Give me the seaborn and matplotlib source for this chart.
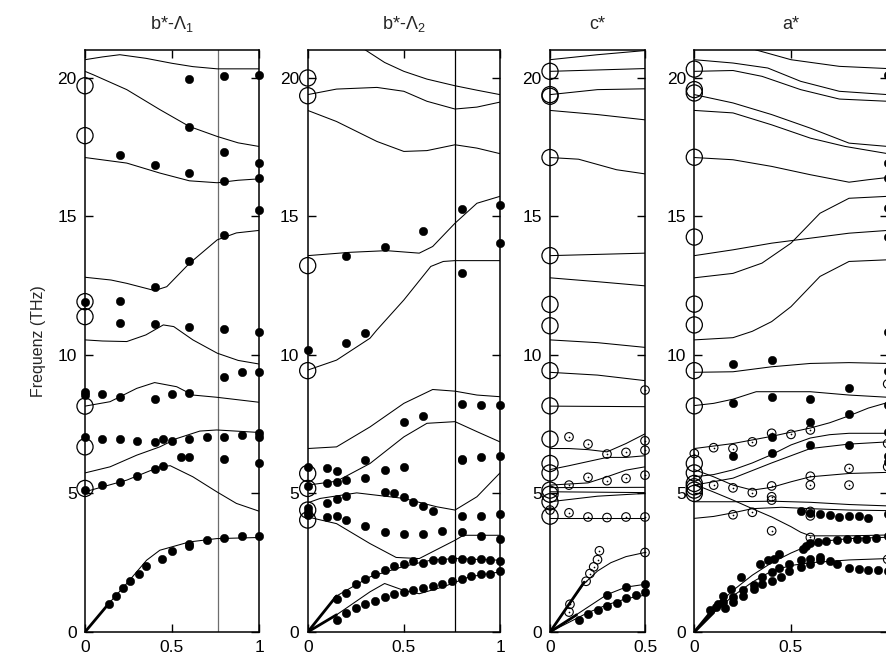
import numpy as np
import pandas as pd
import matplotlib
matplotlib.use("Agg")
import matplotlib.pyplot as plt
import seaborn as sns

# ---------------- data (q in reduced units, f in THz) ----------------
# panel 1: b*-Lambda1
B1_LINES = [
    ([0, .1, .2, .35, .5, .62, .76, 1], [20.65, 20.75, 20.83, 20.7, 20.52, 20.4, 20.32, 20.32]),
    ([0, .05, .24, .43, .6, .76, .88, 1], [20.23, 20.1, 19.57, 18.85, 18.24, 17.88, 17.65, 17.52]),
    ([0, .24, .43, .6, .76, .88, 1], [17.12, 16.92, 16.56, 16.28, 16.21, 16.3, 16.35]),
    ([0, .15, .24, .4, .47, .6, .76, .87, 1], [12.8, 12.7, 12.58, 12.32, 12.46, 13.3, 14.15, 14.4, 14.49]),
    ([0, .1, .24, .35, .45, .51, .62, .76, .88, 1], [10.54, 10.5, 10.48, 10.72, 11.08, 11.02, 10.54, 10.06, 9.8, 9.67]),
    ([0, .144, .297, .4, .527, .62, .757, 1], [8.15, 8.31, 8.79, 9.0, 8.85, 8.55, 8.47, 8.29]),
    ([0, .144, .297, .43, .527, .66, .757, 1], [5.74, 5.96, 6.38, 6.68, 6.98, 7.25, 7.29, 7.2]),
    ([0, .24, .43, .49, .62, .757, .87, 1], [5.06, 5.48, 5.96, 6.0, 5.6, 5.06, 4.64, 4.36]),
    ([0, .144, .24, .354, .43, .6, .757, 1], [0, 1.08, 1.75, 2.59, 2.95, 3.25, 3.37, 3.41]),
]
B1_THICK = [([0, .144], [0, 1.08])]
B1_DOT_Q = [.6, .8, 1, .6, .2, .4, .6, .8, .8, 1, 1, 1, .8, .6, .4, 0, .2,
            .2, .4, .6, .8, 1, .8, .9, 1, 0, 0, .1, .2, .4, .5, .6,
            0, .1, .2, .3, .4, .45, .5, .6, .7, .8, .9, 1, 1, .55, .6, .8, 1,
            0, .1, .2, .3, .4, .45,
            .14, .18, .22, .26, .31, .35, .44, .5, .6, .6, .7, .8, .9, 1]
B1_DOT_F = [19.95, 20.07, 20.1, 18.22, 17.22, 16.86, 16.56, 17.32, 16.29, 16.94, 16.38, 15.23, 14.33, 13.37, 12.46, 11.9, 11.96,
            11.16, 11.11, 11.02, 10.93, 10.84, 9.19, 9.39, 9.39, 8.67, 8.55, 8.59, 8.49, 8.41, 8.59, 8.61,
            7.04, 6.95, 6.95, 6.9, 6.84, 6.96, 6.9, 6.98, 7.02, 7.04, 7.1, 7.17, 7.04, 6.3, 6.3, 6.23, 6.11,
            5.14, 5.32, 5.4, 5.64, 5.88, 6.0,
            1.02, 1.29, 1.57, 1.84, 2.11, 2.37, 2.65, 2.93, 3.12, 3.19, 3.31, 3.40, 3.46, 3.48]
B1_GAMMA = [19.71, 17.91, 11.92, 11.38, 8.15, 6.68, 5.18]

# panel 2: b*-Lambda2
B2_LINES = [
    ([0, .15, .3, .4, .5, .62, .766, .88, 1], [21.9, 21.6, 21.0, 20.55, 20.23, 19.95, 19.71, 19.55, 19.39]),
    ([0, .15, .36, .5, .62, .766, .88, 1], [19.39, 19.59, 19.65, 19.51, 19.15, 18.87, 18.94, 19.12]),
    ([0, .15, .36, .5, .62, .766, .88, 1], [18.82, 18.42, 17.7, 17.34, 17.37, 17.58, 17.46, 17.26]),
    ([0, .22, .41, .58, .65, .766, .88, 1], [13.58, 13.7, 13.76, 13.67, 13.91, 14.75, 15.47, 15.72]),
    ([0, .15, .324, .36, .5, .64, .705, .766, 1], [9.45, 9.81, 10.6, 10.9, 11.98, 13.19, 13.37, 13.4, 13.4]),
    ([0, .15, .324, .5, .65, .766, .88, 1], [6.62, 6.68, 7.4, 8.25, 8.75, 8.69, 8.55, 8.49]),
    ([0, .15, .324, .5, .62, .766, .88, 1], [5.3, 5.44, 6.08, 7.04, 7.53, 7.59, 7.23, 6.86]),
    ([0, .065, .255, .5, .67, .766, .88, 1], [4.66, 4.82, 5.02, 4.82, 4.52, 4.4, 4.88, 5.74]),
    ([0, .15, .324, .46, .58, .766, .81, 1], [4.15, 3.91, 3.19, 2.69, 2.65, 3.31, 3.49, 3.49]),
    ([0, .15, .324, .5, .64, .766, 1], [0, 1.3, 1.99, 2.37, 2.59, 2.65, 2.59]),
    ([0, .15, .324, .4, .5, .58, .705, .84, 1], [0, 0.62, 1.45, 1.75, 1.5, 1.38, 1.63, 1.99, 2.17]),
]
B2_THICK = [([0, .15], [0, 1.3]), ([0, .15], [0, 0.62])]
B2_DOT_Q = [.2, .4, .6, .8, 1, 1, .8, 0, .2, .3, .5, .6, .8, .9, 1, .8, .8, .9, 1,
            0, .1, .15, .3, .3, .4, .5, 0, .1, .15, .2, 0, 0, .1, .15, .2,
            .4, .45, .5, .55, .6, .65, .8, .9, 1,
            0, .1, .15, .2, .3, .4, .5, .6, .7, .8, .9, 1,
            .15, .2, .25, .3, .35, .4, .45, .5, .55, .6, .65, .7, .75, .8, .85, .9, .95, 1,
            .15, .2, .25, .3, .35, .4, .45, .5, .55, .6, .65, .7, .75, .8, .85, .9, .95, 1]
B2_DOT_F = [13.55, 13.88, 14.47, 15.26, 15.39, 14.05, 12.97, 10.18, 10.42, 10.78, 7.56, 7.8, 8.21, 8.19, 8.19, 6.26, 6.2, 6.3, 6.35,
            5.96, 5.92, 5.82, 6.2, 5.54, 5.86, 5.94, 5.27, 5.36, 5.4, 5.48, 4.49, 4.34, 4.64, 4.79, 4.91,
            5.06, 5.0, 4.88, 4.7, 4.55, 4.37, 4.18, 4.18, 4.25,
            4.22, 4.15, 4.18, 4.05, 3.81, 3.61, 3.53, 3.55, 3.65, 3.61, 3.47, 3.37,
            1.2, 1.41, 1.75, 1.93, 2.11, 2.25, 2.37, 2.44, 2.57, 2.5, 2.61, 2.61, 2.64, 2.63, 2.59, 2.63, 2.61, 2.57,
            0.45, 0.69, 0.88, 1.0, 1.12, 1.26, 1.36, 1.45, 1.53, 1.57, 1.66, 1.72, 1.84, 1.93, 2.01, 2.08, 2.11, 2.2]
B2_GAMMA = [19.99, 19.35, 13.22, 9.43, 5.72, 5.18, 4.4, 4.04]

# panel 3: c*
C_LINES = [
    ([0, .25, .5], [20.65, 20.83, 20.98]),
    ([0, .25, .5], [20.23, 20.28, 20.33]),
    ([0, .25, .5], [19.39, 19.57, 19.6]),
    ([0, .25, .5], [18.82, 18.67, 18.48]),
    ([0, .15, .35, .5], [17.12, 17.06, 16.68, 16.53]),
    ([0, .5], [13.58, 13.67]),
    ([0, .25, .5], [12.78, 12.64, 12.49]),
    ([0, .25, .5], [10.54, 10.44, 10.27]),
    ([0, .25, .5], [9.37, 9.27, 9.07]),
    ([0, .5], [8.15, 8.13]),
    ([0, .1, .2, .3, .4, .5], [6.62, 6.62, 6.58, 6.5, 6.8, 7.15]),
    ([0, .1, .2, .3, .4, .5], [5.86, 6.0, 6.15, 6.3, 6.3, 6.36]),
    ([0, .2, .3, .4, .5], [5.3, 5.38, 5.6, 5.84, 5.96]),
    ([0, .5], [5.21, 5.22]),
    ([0, .5], [5.06, 5.03]),
    ([0, .25, .5], [4.7, 4.9, 5.0]),
    ([0, .5], [4.12, 4.12]),
    ([0, .1, .18, .25, .32, .4, .5], [0, 1.0, 1.75, 2.2, 2.5, 2.72, 2.87]),
    ([0, .1, .2, .3, .4, .5], [0, .45, .9, 1.35, 1.62, 1.72]),
    ([0, .1, .2, .3, .4, .5], [0, .35, .7, .98, 1.2, 1.33]),
]
C_THICK = [([0, .18], [0, 1.8]), ([0, .14], [0, 0.62])]
C_DOT_Q = [.15, .2, .25, .3, .3, .35, .4, .4, .45, .5, .5]
C_DOT_F = [.42, .64, .78, .93, 1.32, 1.05, 1.23, 1.63, 1.32, 1.45, 1.75]
C_OPEN_Q = [.1, .2, .3, .4, .5, .5, .5, .1, .2, .3, .4, .5, .1, .2, .3, .4, .5, .5,
            .1, .105, .19, .21, .23, .25, .26, 0]
C_OPEN_F = [7.04, 6.78, 6.42, 6.48, 6.9, 6.56, 8.73, 5.3, 5.58, 5.46, 5.54, 5.66, 4.3, 4.15, 4.13, 4.15, 4.15, 2.87,
            .72, 1.0, 1.83, 2.11, 2.35, 2.61, 2.93, 4.4]
C_GAMMA = [20.23, 19.39, 19.33, 17.12, 13.58, 11.82, 11.05, 9.43, 8.16, 6.96, 6.08, 5.74, 5.12, 4.97, 4.7, 4.18]

# panel 4: a*
A_LINES = [
    ([0, .2, .32, .5, .75, 1], [21.6, 21.3, 21.0, 20.65, 20.41, 20.33]),
    ([0, .2, .38, .55, .75, 1], [20.65, 20.53, 20.35, 19.87, 19.51, 19.39]),
    ([0, .2, .35, .55, .75, 1], [20.23, 20.26, 20.05, 19.57, 19.23, 19.15]),
    ([0, .2, .4, .6, .8, 1], [19.39, 19.09, 18.67, 18.18, 17.64, 17.52]),
    ([0, .2, .4, .6, .78, 1], [18.82, 18.73, 18.3, 17.82, 17.52, 17.26]),
    ([0, .2, .4, .6, .8, .9, 1], [17.12, 17.04, 16.8, 16.5, 16.23, 16.32, 16.4]),
    ([0, .2, .4, .6, .8, 1], [13.58, 13.79, 14.03, 14.21, 14.39, 14.49]),
    ([0, .2, .35, .5, .65, .8, 1], [12.78, 12.94, 13.31, 14.03, 15.11, 15.65, 15.72]),
    ([0, .2, .3, .4, .5, .65, .8, 1], [10.54, 10.62, 10.85, 11.2, 11.74, 12.83, 13.37, 13.43]),
    ([0, .2, .4, .6, .8, 1], [9.37, 9.39, 9.57, 9.69, 9.72, 9.69]),
    ([0, .1, .2, .32, .6, .8, 1], [8.17, 8.25, 8.4, 8.67, 8.67, 8.55, 8.47]),
    ([0, .2, .4, .6, .7, .8, .9, 1], [6.62, 6.8, 7.06, 7.36, 7.55, 7.8, 8.08, 8.28]),
    ([0, .1, .2, .3, .4, .5, .6, .7, .8, 1], [5.6, 5.68, 5.85, 6.1, 6.4, 6.75, 7.0, 7.12, 7.17, 7.17]),
    ([0, .2, .4, .6, .8, 1], [5.3, 5.55, 6.1, 6.62, 6.78, 6.86]),
    ([0, .1, .2, .3, .4, .5, .6, .8, 1], [5.86, 5.6, 5.3, 5.12, 5.22, 5.42, 5.6, 5.72, 5.76]),
    ([0, .1, .2, .3, .4, .5, .55, .6, .8, 1], [5.33, 5.05, 4.76, 4.45, 4.15, 3.8, 3.6, 3.47, 3.47, 3.5]),
    ([0, .2, .4, .6, .8, 1], [4.7, 4.7, 4.72, 4.68, 4.6, 4.55]),
    ([0, .1, .2, .3, .45, .6, .8, 1], [4.1, 4.17, 4.3, 4.45, 4.5, 4.45, 4.4, 4.38]),
    ([0, .1, .2, .3, .4, .5, .6, .7, .8, 1], [0, .85, 1.5, 2.05, 2.5, 2.85, 3.15, 3.3, 3.37, 3.42]),
    ([0, .1, .2, .3, .4, .5, .6, .8, 1], [0, .7, 1.3, 1.8, 2.2, 2.4, 2.5, 2.6, 2.65]),
]
A_THICK = [([0, .1], [0, .85]), ([0, .1], [0, .7])]
A_DOT_Q = [.2, .4, .2, .4, .6, .8, .6, .8, .4, .2, .4, .6, .8,
           .55, .6, .65, .7, .75, .8, .85, .9,
           1, 1, 1, 1, 1, 1, 1, 1, 1, 1, 1, 1, 1, 1,
           .08, .12, .15, .19, .24, .34, .38, .41, .44, .56, .58, .6, .64, .68, .74, .79, .84, .89, .94,
           .11, .15, .2, .25, .31, .35, .4, .44, .49, .55, .6, .65,
           .16, .2, .25, .31, .35, .4, .45, .49, .55, .6, .65, .7, .74, .8, .85, .9, .95]
A_DOT_F = [9.67, 9.81, 8.27, 8.47, 8.39, 8.8, 7.59, 7.85, 7.02, 6.35, 6.47, 6.74, 6.74,
           4.36, 4.3, 4.25, 4.22, 4.15, 4.19, 4.18, 4.13,
           20.1, 16.94, 16.38, 15.3, 14.25, 10.84, 9.43, 8.2, 7.2, 6.35, 6.15, 4.25, 3.45, 2.2,
           .78, 1.0, 1.3, 1.55, 2.0, 2.45, 2.6, 2.65, 2.8, 2.98, 3.1, 3.2, 3.25, 3.29, 3.31, 3.34, 3.36, 3.37, 3.39,
           .9, 1.08, 1.26, 1.5, 1.7, 2.0, 2.15, 2.3, 2.45, 2.6, 2.65, 2.72,
           .85, 1.08, 1.3, 1.55, 1.75, 1.85, 2.0, 2.2, 2.35, 2.45, 2.6, 2.55, 2.45, 2.32, 2.28, 2.24, 2.22]
A_OPEN_Q = [0, .1, .2, .3, .4, .5, .6, .1, .2, .3, .4, .4, .4, .6, .6, .8, .8,
            .2, .3, .4, .6, .6, .6, 1, 1, 1, 1]
A_OPEN_F = [6.44, 6.65, 6.62, 6.86, 7.17, 7.13, 7.29, 5.3, 5.2, 5.03, 5.27, 4.88, 4.76, 5.62, 5.3, 5.9, 5.3,
            4.23, 4.32, 3.65, 4.35, 4.19, 3.41, 8.95, 6.8, 5.96, 2.62]
A_GAMMA = [20.31, 19.57, 19.45, 17.13, 14.25, 11.83, 11.08, 9.43, 8.16, 6.08, 5.74, 5.36, 5.24, 5.12, 5.0]

TITLES = ["b*-$\\Lambda_1$", "b*-$\\Lambda_2$", "c*", "a*"]
ZONE_EDGE = 0.765

# ---------------- style ----------------
sns.set_style("ticks")
plt.rcParams["font.family"] = ["Liberation Sans", "DejaVu Sans"]
plt.rcParams["mathtext.fontset"] = "custom"
plt.rcParams["mathtext.rm"] = "Liberation Sans"
plt.rcParams["mathtext.it"] = "Liberation Sans"
plt.rcParams["mathtext.default"] = "regular"

W, H = 886, 658
fig = plt.figure(figsize=(W / 100, H / 100), dpi=100)


def frame(lines):
    parts = []
    for i, (q, f) in enumerate(lines):
        parts.append(pd.DataFrame({"q": q, "f": f, "branch": i}))
    return pd.concat(parts, ignore_index=True)


def panel(px_left, px_width, xmax, xticks, xlabels, title, lines, thick,
          dot_q, dot_f, gamma, open_q=None, open_f=None, vline=None):
    ax = fig.add_axes([px_left / W, 26 / H, px_width / W, 582 / H])
    sns.lineplot(data=frame(lines), x="q", y="f", units="branch", estimator=None,
                 sort=False, color="black", lw=0.75, ax=ax, legend=False)
    sns.lineplot(data=frame(thick), x="q", y="f", units="branch", estimator=None,
                 sort=False, color="black", lw=2.0, ax=ax, legend=False)
    if vline is not None:
        ax.axvline(ZONE_EDGE, color=vline, lw=0.9, zorder=1)
    sns.scatterplot(x=[0] * len(gamma), y=gamma, s=135, facecolor="none",
                    edgecolor="black", linewidth=0.9, ax=ax, clip_on=False, zorder=4)
    if open_q is not None:
        sns.scatterplot(x=open_q, y=open_f, s=38, facecolor="none",
                        edgecolor="black", linewidth=0.8, ax=ax, clip_on=False, zorder=4)
        sns.scatterplot(x=open_q, y=open_f, s=1.5, color="black",
                        edgecolor="black", linewidth=0, ax=ax, clip_on=False, zorder=4)
    sns.scatterplot(x=dot_q, y=dot_f, s=36, color="black", edgecolor="black",
                    linewidth=0.4, ax=ax, clip_on=False, zorder=5)
    ax.set_xlim(0, xmax)
    ax.set_ylim(0, 21)
    ax.set_xticks(xticks)
    ax.set_xticklabels(xlabels)
    ax.set_yticks([0, 5, 10, 15, 20])
    ax.tick_params(direction="in", top=True, right=True, length=6, width=1,
                   labelsize=12.5, pad=6, colors="black")
    for sp in ax.spines.values():
        sp.set_linewidth(1.1)
        sp.set_color("black")
    ax.set_xlabel("")
    ax.set_ylabel("")
    ax.set_title(title, fontsize=13, pad=15)
    return ax


ax1 = panel(85, 174, 1, [0, .5, 1], ["0", "0.5", "1"], TITLES[0], B1_LINES, B1_THICK,
            B1_DOT_Q, B1_DOT_F, B1_GAMMA, vline="#6e6e6e")
ax1.set_ylabel("Frequenz (THz)", fontsize=11.5, labelpad=8)
panel(307.7, 192.3, 1, [0, .5, 1], ["0", "0.5", "1"], TITLES[1], B2_LINES, B2_THICK,
      B2_DOT_Q, B2_DOT_F, B2_GAMMA, vline="black")
panel(550, 95, .5, [0, .5], ["0", "0.5"], TITLES[2], C_LINES, C_THICK,
      C_DOT_Q, C_DOT_F, C_GAMMA, C_OPEN_Q, C_OPEN_F)
# the right edge of the a* panel lies just outside the picture, so its "1" is not shown
panel(694.3, 193.4, 1, [0, .5, 1], ["0", "0.5", ""], TITLES[3], A_LINES, A_THICK,
      A_DOT_Q, A_DOT_F, A_GAMMA, A_OPEN_Q, A_OPEN_F)

fig.savefig("out.png", dpi=100)
